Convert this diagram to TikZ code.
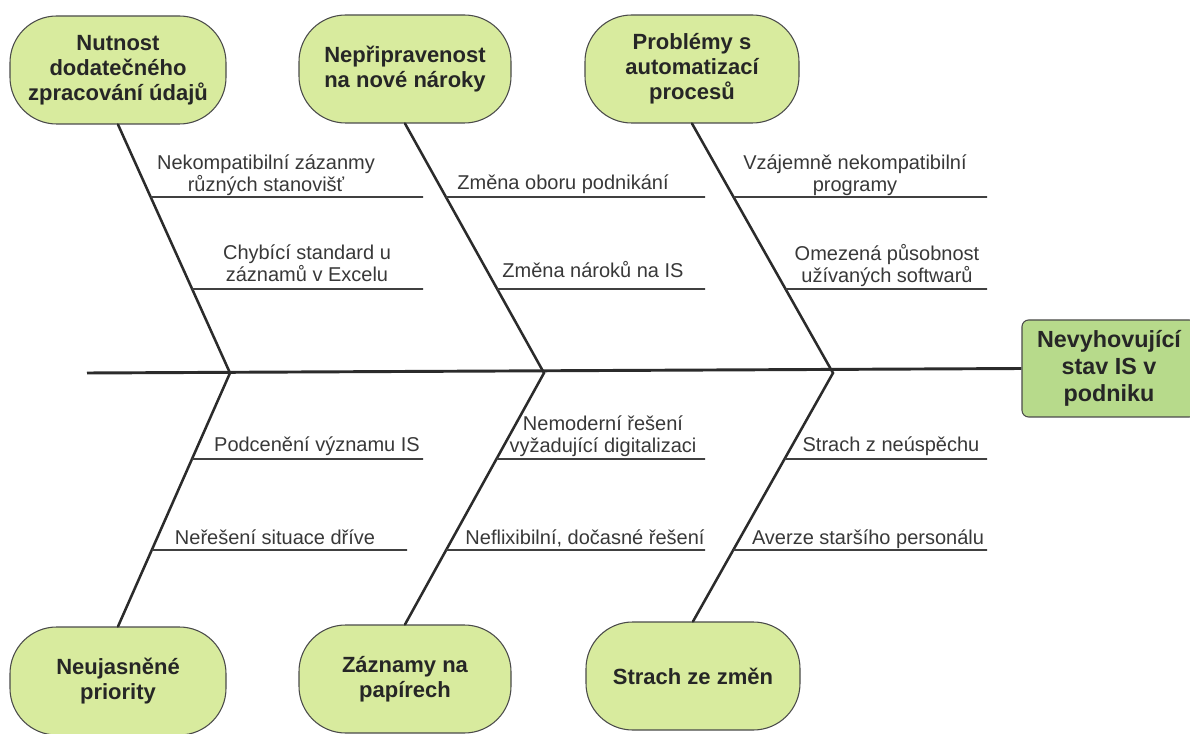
\documentclass[tikz,border=0pt]{standalone}
\usepackage{fontspec}
\setmainfont{Liberation Sans}
\definecolor{causefill}{HTML}{D8EB9E}
\definecolor{effectfill}{HTML}{B7DA8B}
\definecolor{edgecol}{HTML}{4A4A4A}
\definecolor{bonecol}{HTML}{2B2B2B}
\definecolor{labelcol}{HTML}{383838}
\definecolor{headcol}{HTML}{262626}
\tikzset{
  causebox/.style={draw=edgecol, line width=0.8pt, fill=causefill,
    rounded corners=35pt, minimum width=#1, minimum height=81pt,
    align=center, inner sep=2pt, text=headcol,
    font=\fontsize{16.5}{18.75}\selectfont\bfseries},
  effectbox/.style={draw=edgecol, line width=0.8pt, fill=effectfill,
    rounded corners=5pt, minimum width=130.5pt, minimum height=72.75pt,
    align=center, inner sep=2pt, text=headcol,
    font=\fontsize{17.5}{20}\selectfont\bfseries},
  spine/.style={draw=bonecol, line width=2.2pt},
  bone/.style={draw=bonecol, line width=1.9pt, line cap=round},
  twig/.style={draw=bonecol!90, line width=1.4pt},
  causelabel/.style={font=\fontsize{15}{16.5}\selectfont, text=labelcol,
    align=center, inner sep=0pt}
}
\begin{document}
\begin{tikzpicture}[x=0.75pt,y=-0.75pt]
\useasboundingbox (0,0) rectangle (1190,734);

% effect (head of the fish)
\node[effectbox] (eff) at (1109,368.5) {Nevyhovující\\stav IS v\\podniku};

% main causes
\node[causebox=162pt] (n1) at (118,70) {Nutnost\\dodatečného\\zpracování údajů};
\node[causebox=159pt] (n2) at (405,69) {Nepřipravenost\\na nové nároky};
\node[causebox=160.5pt] (n3) at (692,69) {Problémy s\\automatizací\\procesů};
\node[causebox=162pt] (b1) at (118,681) {Neujasněné\\priority};
\node[causebox=159pt] (b2) at (405,679) {Záznamy na\\papírech};
\node[causebox=160.5pt] (b3) at (693,676) {Strach ze změn};

% spine and joints
\coordinate (tail) at (87,373);
\coordinate (j1) at (230,373);
\coordinate (j2) at (544,373);
\coordinate (j3) at (833,373);
\draw[spine] (tail) -- (eff.west);

% bones
\draw[bone] (n1.south) -- (j1) -- (b1.north);
\draw[bone] (n2.south) -- (j2) -- (b2.north);
\draw[bone] (n3.south) -- (j3) -- (b3.north);

% right ends of the sub-cause lines
\coordinate (t1a) at (423,197); \coordinate (t1b) at (423,289);
\coordinate (t2a) at (705,197); \coordinate (t2b) at (705,289);
\coordinate (t3a) at (987,197); \coordinate (t3b) at (987,289);
\coordinate (u1a) at (423,459); \coordinate (u1b) at (407,550);
\coordinate (u2a) at (705,459); \coordinate (u2b) at (705,550);
\coordinate (u3a) at (987,459); \coordinate (u3b) at (987,550);

% sub-cause lines
\draw[twig] (intersection of n1.south--j1 and 0,197--1190,197) -- (t1a);
\draw[twig] (intersection of n1.south--j1 and 0,289--1190,289) -- (t1b);
\draw[twig] (intersection of n2.south--j2 and 0,197--1190,197) -- (t2a);
\draw[twig] (intersection of n2.south--j2 and 0,289--1190,289) -- (t2b);
\draw[twig] (intersection of n3.south--j3 and 0,197--1190,197) -- (t3a);
\draw[twig] (intersection of n3.south--j3 and 0,289--1190,289) -- (t3b);
\draw[twig] (intersection of b1.north--j1 and 0,459--1190,459) -- (u1a);
\draw[twig] (intersection of b1.north--j1 and 0,550--1190,550) -- (u1b);
\draw[twig] (intersection of b2.north--j2 and 0,459--1190,459) -- (u2a);
\draw[twig] (intersection of b2.north--j2 and 0,550--1190,550) -- (u2b);
\draw[twig] (intersection of b3.north--j3 and 0,459--1190,459) -- (u3a);
\draw[twig] (intersection of b3.north--j3 and 0,550--1190,550) -- (u3b);

% sub-cause labels
\node[causelabel] (l1) at (266,175) {Nekompatibilní zázanmy\\různých stanovišť};
\node[causelabel] (l2) at (307,263) {Chybící standard u\\záznamů v Excelu};
\node[causelabel, anchor=base] (l3) at (563,190) {Změna oboru podnikání};
\node[causelabel, anchor=base] (l4) at (593,278) {Změna nároků na IS};
\node[causelabel] (l5) at (855,175) {Vzájemně nekompatibilní\\programy};
\node[causelabel] (l6) at (887,266) {Omezená působnost\\užívaných softwarů};
\node[causelabel, anchor=base] (l7) at (317,452) {Podcenění významu IS};
\node[causelabel, anchor=base] (l8) at (275,544) {Neřešení situace dříve};
\node[causelabel] (l9) at (603,436) {Nemoderní řešení\\vyžadující digitalizaci};
\node[causelabel, anchor=base] (l10) at (585,544) {Neflixibilní, dočasné řešení};
\node[causelabel, anchor=base] (l11) at (891,452) {Strach z neúspěchu};
\node[causelabel, anchor=base] (l12) at (868,544) {Averze staršího personálu};
\end{tikzpicture}
\end{document}
